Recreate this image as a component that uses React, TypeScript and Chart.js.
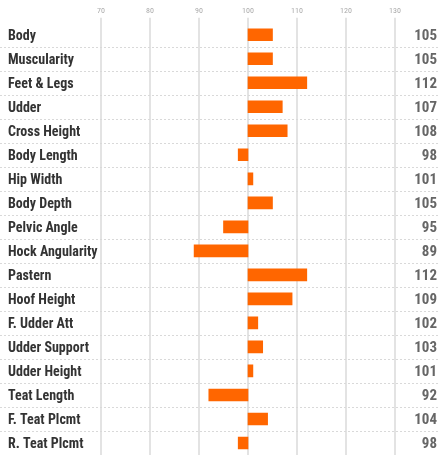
import React, { useEffect, useRef } from "react";
import { Chart, registerables } from "chart.js";

Chart.register(...registerables);

const categories = [
  "Body",
  "Muscularity",
  "Feet & Legs",
  "Udder",
  "Cross Height",
  "Body Length",
  "Hip Width",
  "Body Depth",
  "Pelvic Angle",
  "Hock Angularity",
  "Pastern",
  "Hoof Height",
  "F. Udder Att",
  "Udder Support",
  "Udder Height",
  "Teat Length",
  "F. Teat Plcmt",
  "R. Teat Plcmt",
];

const values = [105, 105, 112, 107, 108, 98, 101, 105, 95, 89, 112, 109, 102, 103, 101, 92, 104, 98];

const baseValue = 100;
const axisMin = 70;
const axisMax = 130;
const axisStep = 10;

const FONT = 'Roboto, "DejaVu Sans Condensed", sans-serif';

const separatorPlugin = {
  id: "rowSeparators",
  beforeDatasetsDraw(chart: any) {
    const ys = chart.scales.y;
    const ctx = chart.ctx;
    ctx.save();
    ctx.strokeStyle = "#d9d9d9";
    ctx.lineWidth = 1;
    ctx.setLineDash([2, 2]);
    for (let i = 0; i < categories.length - 1; i++) {
      const y = Math.round((ys.getPixelForValue(i) + ys.getPixelForValue(i + 1)) / 2) + 0.5;
      ctx.beginPath();
      ctx.moveTo(0, y);
      ctx.lineTo(chart.width, y);
      ctx.stroke();
    }
    ctx.restore();
  },
};

const noPadY = (w: number) => (scale: any) => {
  scale.width = w;
  scale.paddingTop = 0;
  scale.paddingBottom = 0;
};

export default function App() {
  const ref = useRef<HTMLCanvasElement | null>(null);

  useEffect(() => {
    if (!ref.current) return;
    const chart = new Chart(ref.current, {
      type: "bar",
      data: {
        labels: categories,
        datasets: [
          {
            data: values.map((v) => [baseValue, v]) as any,
            backgroundColor: "#ff6600",
            borderWidth: 0,
            borderSkipped: false,
            barThickness: 12,
            yAxisID: "y",
          },
        ],
      },
      plugins: [separatorPlugin],
      options: {
        indexAxis: "y",
        animation: false,
        responsive: true,
        maintainAspectRatio: false,
        layout: { padding: { left: 8, right: 2, top: 0, bottom: 0 } },
        plugins: {
          legend: { display: false },
          tooltip: { enabled: false },
        },
        scales: {
          x: {
            position: "top",
            min: axisMin,
            max: axisMax,
            border: { display: false },
            grid: {
              color: "#e3e3e3",
              lineWidth: 2,
              tickLength: 5,
              drawTicks: true,
            },
            ticks: {
              stepSize: axisStep,
              color: "#aaaaaa",
              font: { family: FONT, size: 8, weight: "normal semi-condensed" as any },
              padding: 2,
              maxRotation: 0,
            },
            afterFit(scale: any) {
              scale.height = 22.7;
              scale.paddingLeft = 0;
              scale.paddingRight = 0;
            },
          },
          y: {
            type: "category",
            position: "left",
            offset: true,
            border: { display: false },
            grid: { display: false },
            ticks: {
              crossAlign: "far",
              color: "#333333",
              font: { family: FONT, size: 14, weight: "bold semi-condensed" as any },
              padding: 0,
              labelOffset: 1.5,
            },
            afterFit: noPadY(93),
          },
          y2: {
            type: "category",
            position: "right",
            offset: true,
            labels: values.map((v) => String(v)),
            border: { display: false },
            grid: { display: false },
            ticks: {
              crossAlign: "far",
              color: "#666666",
              font: { family: FONT, size: 15, weight: "bold semi-condensed" as any },
              padding: 0,
              labelOffset: 1.5,
            },
            afterFit: noPadY(42),
          },
        },
      },
    });
    return () => chart.destroy();
  }, []);

  return (
    <div style={{ position: "absolute", left: 0, top: 0, width: 439, height: 455, background: "#ffffff" }}>
      <canvas ref={ref} />
    </div>
  );
}
